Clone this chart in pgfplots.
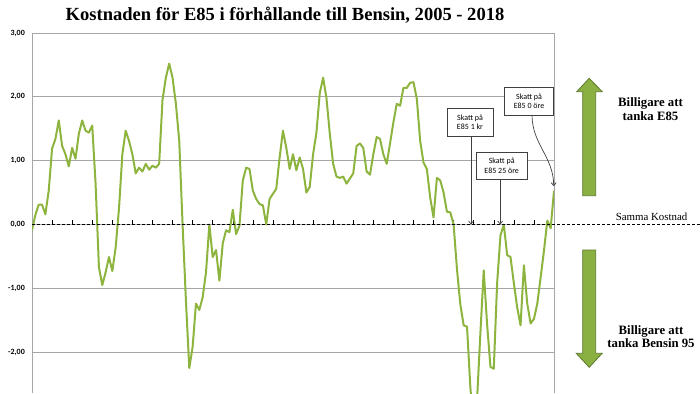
\documentclass[border=0pt]{standalone}
\usepackage{fontspec}
\setmainfont{Liberation Serif}
\newfontfamily\calibri{Carlito}
\usepackage{pgfplots}
\pgfplotsset{compat=1.18}
\usetikzlibrary{arrows.meta}
\definecolor{lineg}{RGB}{141,180,62}
\definecolor{arrfill}{RGB}{138,176,66}
\definecolor{arrdraw}{RGB}{94,122,44}
\definecolor{gridg}{RGB}{166,166,166}
\definecolor{boxd}{RGB}{64,64,64}

\pgfplotstableread{
m v
0 -0.09
1 0.15
2 0.31
3 0.31
4 0.16
5 0.53
6 1.19
7 1.34
8 1.63
9 1.23
10 1.10
11 0.91
12 1.20
13 1.03
14 1.42
15 1.63
16 1.47
17 1.44
18 1.55
19 0.64
20 -0.67
21 -0.95
22 -0.75
23 -0.51
24 -0.73
25 -0.36
26 0.25
27 1.10
28 1.47
29 1.31
30 1.10
31 0.80
32 0.89
33 0.83
34 0.95
35 0.86
36 0.92
37 0.89
38 0.95
39 1.95
40 2.30
41 2.52
42 2.30
43 1.89
44 1.31
45 0.00
46 -1.19
47 -2.25
48 -1.92
49 -1.24
50 -1.34
51 -1.14
52 -0.75
53 0.00
54 -0.51
55 -0.40
56 -0.88
57 -0.30
58 -0.09
59 -0.12
60 0.23
61 -0.15
62 -0.02
63 0.69
64 0.89
65 0.87
66 0.53
67 0.40
68 0.32
69 0.30
70 0.00
71 0.40
72 0.48
73 0.56
74 1.05
75 1.47
76 1.20
77 0.87
78 1.10
79 0.85
80 1.05
81 0.87
82 0.50
83 0.59
84 1.10
85 1.44
86 2.06
87 2.30
88 1.98
89 1.42
90 0.95
91 0.75
92 0.73
93 0.75
94 0.64
95 0.72
96 0.80
97 1.23
98 1.27
99 1.20
100 0.83
101 0.78
102 1.10
103 1.37
104 1.34
105 1.10
106 0.95
107 1.27
108 1.60
109 1.89
110 1.86
111 2.14
112 2.14
113 2.22
114 2.23
115 1.97
116 1.31
117 0.97
118 0.87
119 0.42
120 0.11
121 0.73
122 0.69
123 0.50
124 0.20
125 0.19
126 0.00
127 -0.70
128 -1.25
129 -1.58
130 -1.60
131 -2.55
132 -3.20
133 -2.75
134 -1.70
135 -0.72
136 -1.56
137 -2.23
138 -2.26
139 -0.92
140 -0.17
141 0.00
142 -0.48
143 -0.51
144 -0.92
145 -1.30
146 -1.58
147 -0.64
148 -1.24
149 -1.55
150 -1.48
151 -1.24
152 -0.83
153 -0.41
154 0.06
155 -0.06
156 0.53
}\kostnad

\begin{document}
\begin{tikzpicture}[x=1bp,y=1bp]
\path[use as bounding box] (0,0) rectangle (700,393);
\clip (0,0) rectangle (700,393);
\begin{axis}[
  at={(32bp,0bp)}, anchor=south west,
  scale only axis, width=522bp, height=360bp,
  xmin=0, xmax=156, ymin=-2.64, ymax=3,
  separate axis lines,
  x axis line style={draw=none},
  y axis line style={gridg, line width=0.8bp},
  xtick=\empty,
  ytick={-2,-1,0,1,2,3},
  ymajorgrids,
  grid style={gridg, line width=0.8bp},
  major tick length=0pt,
  ytick style={draw=none},
  yticklabel style={font=\calibri\bfseries\fontsize{8}{9}\selectfont, inner sep=0pt, xshift=-7bp},
  /pgf/number format/assume math mode=true,
  yticklabel={\pgfmathprintnumber[fixed,fixed zerofill,precision=2,use comma]{\tick}},
]
\coordinate (z0) at (axis cs:0,0);
\coordinate (a1) at (axis cs:131.2,0);
\coordinate (a2) at (axis cs:139.9,0);
\coordinate (a3) at (axis cs:155.9,0.6);
\pgfplotsinvokeforeach{6,12,...,150}{\draw[black, line width=0.5bp] (axis cs:#1,0) -- ([yshift=4bp]axis cs:#1,0);}
\addplot[lineg, line width=2bp, line join=round, no marks] table[x=m, y=v] {\kostnad};
\end{axis}
\coordinate (rr) at (700,0);
\draw[black, line width=0.9bp, dash pattern=on 3bp off 2bp] (z0) -- (z0 -| rr);

% title
\node[anchor=base, font=\bfseries\fontsize{18.6}{20}\selectfont, inner sep=0pt] at (285,373) {Kostnaden för E85 i förhållande till Bensin, 2005 - 2018};

% annotation boxes
\begin{scope}[font=\calibri\fontsize{8}{9.5}\selectfont]
\node[draw=boxd, fill=white, line width=0.6bp, minimum width=46bp, minimum height=28bp, inner sep=1bp, align=center] (b1) at (470,271) {Skatt på\\E85 1 kr};
\node[draw=boxd, fill=white, line width=0.6bp, minimum width=51bp, minimum height=27bp, inner sep=1bp, align=center] (b2) at (501.7,227.3) {Skatt på\\E85 25 öre};
\node[draw=boxd, fill=white, line width=0.6bp, minimum width=49bp, minimum height=28bp, inner sep=1bp, align=center] (b3) at (529,292) {Skatt på\\E85 0 öre};
\end{scope}
\draw[boxd, line width=0.7bp, -{Straight Barb[length=3bp,width=5bp]}] (a1 |- b1.south) -- (a1);
\draw[boxd, line width=0.7bp, -{Straight Barb[length=3bp,width=5bp]}] (a2 |- b2.south) -- (a2);
\draw[boxd, line width=0.7bp, -{Straight Barb[length=3bp,width=5bp]}] (532,278) to[out=-90,in=90] (a3);

% green arrows
\draw[arrdraw, fill=arrfill, line width=0.8bp, line join=miter] (582.7,197.3) -- (582.7,301.3) -- (576.7,301.3) -- (589.2,314.7) -- (602.3,301.3) -- (595.7,301.3) -- (595.7,197.3) -- cycle;
\draw[arrdraw, fill=arrfill, line width=0.8bp, line join=miter] (582.7,143) -- (582.7,39.7) -- (576.2,39.7) -- (589.2,25.7) -- (602.2,39.7) -- (595.7,39.7) -- (595.7,143) -- cycle;

% side texts
\node[anchor=base, font=\bfseries\fontsize{12.8}{14}\selectfont, inner sep=0pt] at (650.5,287) {Billigare att};
\node[anchor=base, font=\bfseries\fontsize{12.8}{14}\selectfont, inner sep=0pt] at (650.5,273) {tanka E85};
\node[anchor=base, font=\bfseries\fontsize{12.8}{14}\selectfont, inner sep=0pt] at (651,59) {Billigare att};
\node[anchor=base, font=\bfseries\fontsize{12.8}{14}\selectfont, inner sep=0pt] at (651,45.7) {tanka Bensin 95};
\node[anchor=base, font=\fontsize{10.9}{12}\selectfont, inner sep=0pt] at (651.5,173) {Samma Kostnad};
\end{tikzpicture}
\end{document}
